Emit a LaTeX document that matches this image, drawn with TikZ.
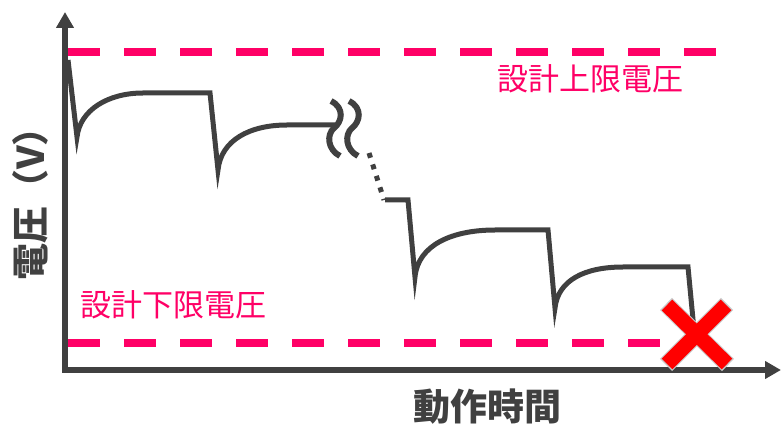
\documentclass[tikz,border=0pt]{standalone}
\usepackage{fontspec}
\setmainfont{Noto Sans CJK JP}
\usetikzlibrary{arrows.meta}
\definecolor{axisgrey}{HTML}{404040}
\definecolor{limitpink}{HTML}{FF0066}
\definecolor{crossred}{HTML}{FF0000}
\definecolor{crossedge}{HTML}{C8C8C8}
\tikzset{
  axisline/.style={draw=axisgrey, line width=6pt, -{Triangle[length=16pt,width=17pt]}},
  limitline/.style={draw=limitpink, line width=8pt, dash pattern=on 32pt off 24pt},
  curveline/.style={draw=axisgrey, line width=5pt, line join=miter},
  waveline/.style={draw=axisgrey, line width=6pt},
  dotline/.style={draw=axisgrey, line width=5pt, dash pattern=on 5pt off 7pt},
  limitlabel/.style={text=limitpink, font=\fontsize{31}{31}\selectfont, inner sep=0pt},
  axislabel/.style={text=axisgrey, font=\bfseries\fontsize{37}{37}\selectfont, inner sep=0pt},
}
\begin{document}
\begin{tikzpicture}[x=1pt,y=-1pt]
\useasboundingbox (0,0) rectangle (781,427);
% limit lines
\draw[limitline] (68,52.5) -- (716,52.5);
\draw[limitline] (68,342.5) -- (660,342.5);
% axes
\coordinate (origin) at (65,370);
\coordinate (ytip) at (65,12);
\coordinate (xtip) at (781,370);
\draw[axisline] (65,372) -- (ytip);
\draw[axisline] (62,370) -- (xtip);
% voltage curve, first part
\draw[curveline] (68,60) -- (77,137)
  .. controls (80,110) and (108,93) .. (143,93) -- (210,93) -- (218,170)
  .. controls (221,140) and (250,125) .. (287,125) -- (335,125);
% break marks
\draw[waveline] (331,101) .. controls (345,108) and (342,122) .. (334,128)
  .. controls (326,135) and (328,150) .. (340,156);
\draw[waveline] (349,101) .. controls (363,108) and (360,122) .. (352,128)
  .. controls (344,135) and (346,150) .. (358,156);
% dotted continuation
\draw[dotline] (369,153) -- (384,200);
% voltage curve, second part
\draw[curveline] (385,200) -- (408,200) -- (415,277)
  .. controls (418,245) and (452,230) .. (495,230) -- (548,230) -- (555,308)
  .. controls (558,280) and (585,267) .. (623,267) -- (688,267) -- (694,330);
% cross
\draw[crossedge, line width=17pt] (666,304) -- (728,365);
\draw[crossedge, line width=17pt] (727,304) -- (666,365);
\draw[crossred, line width=15pt] (667,305) -- (727,364);
\draw[crossred, line width=15pt] (726,305) -- (667,364);
% labels
\node[limitlabel] (upper) at (590,79) {設計上限電圧};
\node[limitlabel] (lower) at (173,305) {設計下限電圧};
\node[axislabel] (xlabel) at (487,407) {動作時間};
\node[axislabel, rotate=90] (ylabel) at (30,195) {電圧（V）};
\end{tikzpicture}
\end{document}
